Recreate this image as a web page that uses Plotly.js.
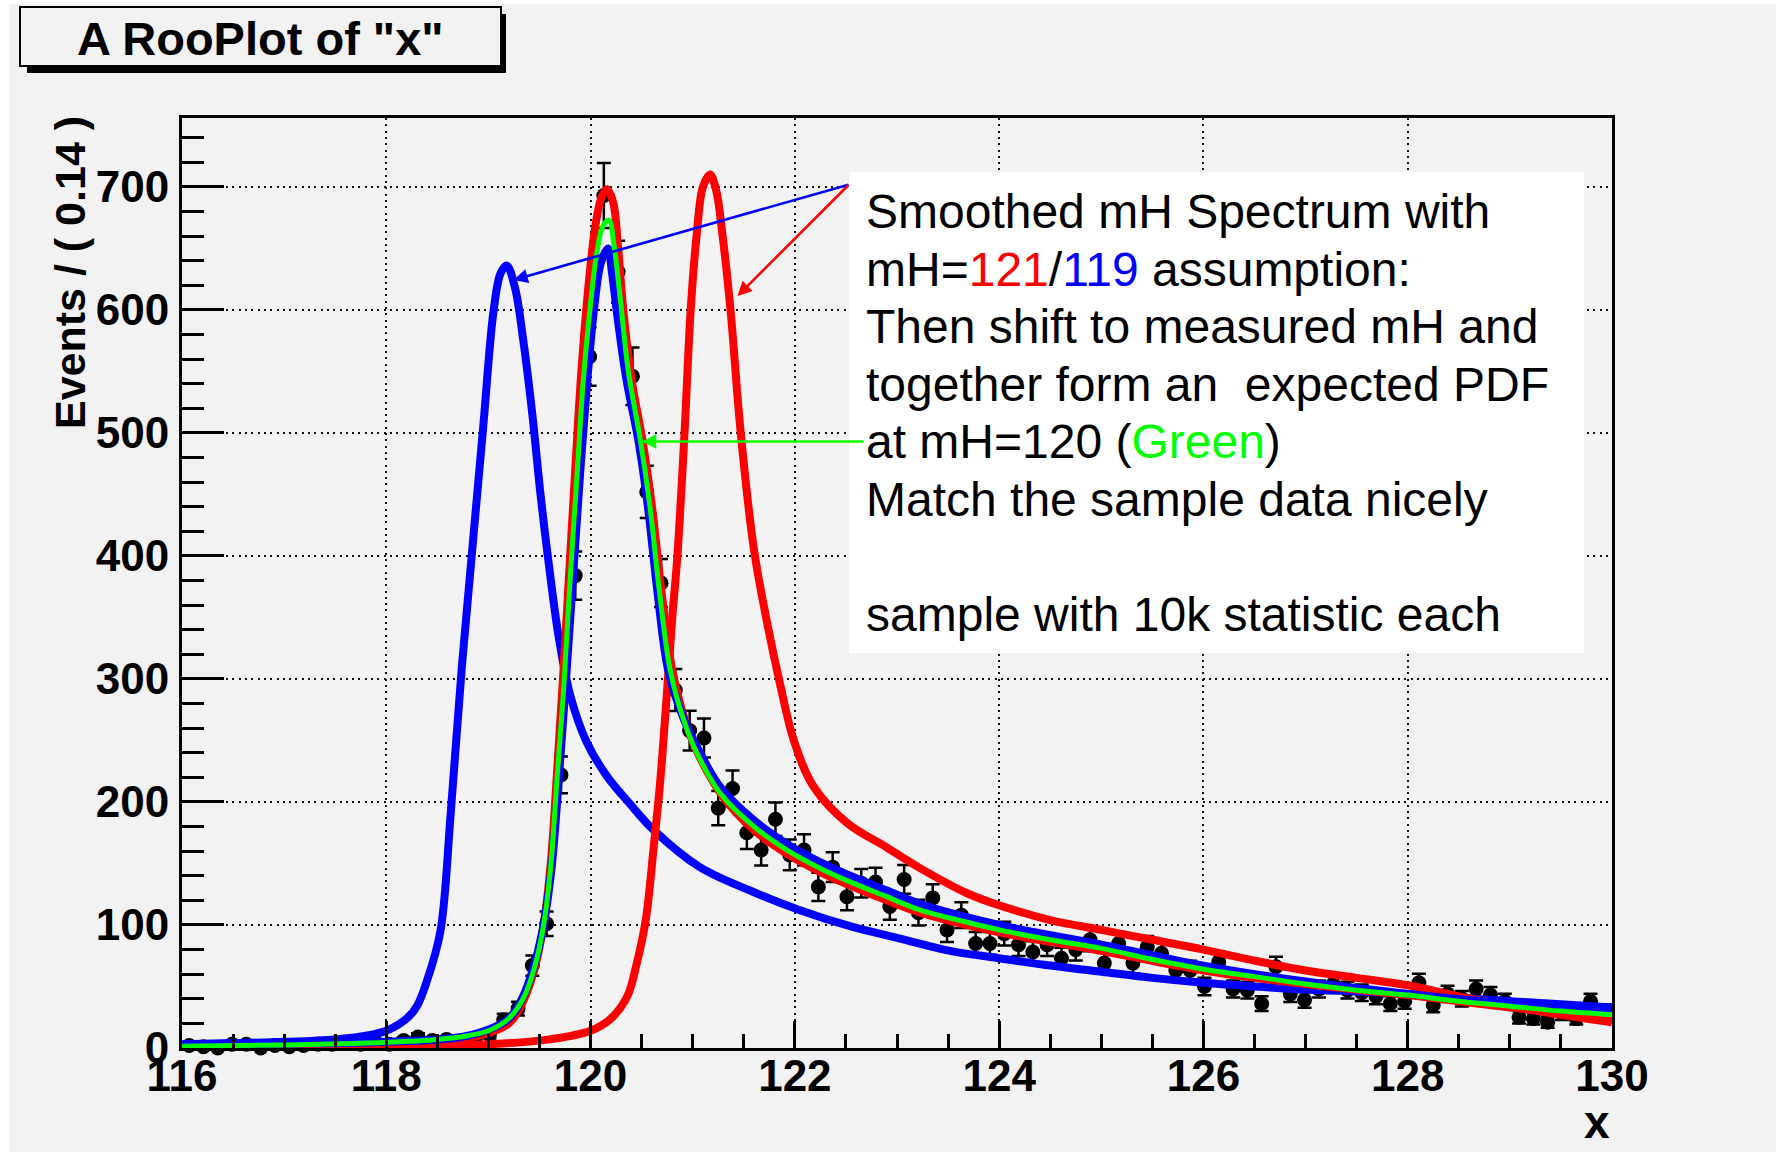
<!DOCTYPE html>
<html><head><meta charset="utf-8">
<script src="https://cdn.plot.ly/plotly-3.0.1.min.js"></script>
<style>html,body{margin:0;padding:0;background:#fff;} #chart{width:1782px;height:1156px;}</style>
</head><body><div id="chart"></div>
<script>
// ---------------- DATA ----------------
// histogram: 100 bins of width 0.14 from 116 to 130
const binLow = 116, binWidth = 0.14;
const counts = [2,1,0,3,3,0,2,1,2,3, 3,4,3,5,3,6,9,6,7,4,
  5,11,23,32,67,101,222,384,562,693, 631,546,452,378,291,258,252,195,211,175,
  161,186,157,161,131,147,123,134,135,115, 137,110,122,96,108,85,85,93,84,78,
  84,73,80,88,69,85,69,82,77,63, 63,50,70,48,47,36,66,44,39,48,
  52,47,45,42,36,38,53,35,44,40, 48,43,38,25,24,21,28,24,38,30];
const binCenters = counts.map((_, i) => +(binLow + binWidth * (i + 0.5)).toFixed(2));

// smoothed spectrum, mH = 119 assumption (blue, original position)
const blue119X = [116,116.5,117,117.5,117.8,118,118.2,118.3,118.4,118.53,118.63,118.74,118.85,118.95,119.05,119.12,119.18,119.26,119.34,119.43,119.51,119.59,119.69,119.8,119.96,120.16,120.39,120.62,121.07,121.56,122.05,122.54,123.03,123.52,124,124.5,125,125.5,126,126.5,127,127.5,128,128.5,129,129.5,130];
const blue119Y = [3,4,5,7,10,14,24,34,55,95,190,310,413,506,599,630,636,618,576,515,450,394,333,287,249,221,198,177,147,128,112,99,89,79,73,67,62,57,53,50,47.5,46,44,41,38,35.5,33];

// smoothed spectrum, mH = 121 assumption (red, original position)
const red121X = [116,117,118,119,119.6,120,120.2,120.36,120.45,120.54,120.62,120.68,120.74,120.8,120.85,120.92,120.98,121.04,121.1,121.17,121.23,121.29,121.37,121.47,121.6,121.73,121.86,121.99,122.18,122.51,122.9,123.23,123.68,124,124.5,125,125.5,126,126.5,127,127.5,128,128.5,129,129.5,130];
const red121Y = [0.5,1,1.5,3,7,14,24,42,68,104,165,215,280,350,400,500,600,662,700,710,697,662,600,500,405,345,294,250,213,183,163,146,126,116,104,96,88,80,71,63,57,51,42,34,27,21];

// mH = 121 spectrum shifted to 120 (red)
const red121sX = [116,117,118,118.8,119.2,119.34,119.45,119.54,119.61,119.67,119.73,119.79,119.85,119.91,119.98,120.05,120.11,120.16,120.22,120.27,120.32,120.4,120.51,120.6,120.7,120.8,120.93,121.06,121.29,121.6,121.92,122.25,122.57,122.9,123.23,124,125,126,127,128,129,130];
const red121sY = [0.5,1.5,3,8,20,38,64,100,150,222,300,385,470,550,620,670,692,698,688,650,600,544,493,441,367,307,265,238,205,177,158,143,131,120,110,94,79,63,52,43,33,25];

// mH = 119 spectrum shifted to 120 (blue)
const blue119sX = [116,117,118,118.8,119.2,119.34,119.45,119.54,119.62,119.69,119.76,119.83,119.9,119.97,120.04,120.1,120.17,120.21,120.27,120.35,120.47,120.56,120.66,120.76,120.9,121.04,121.27,121.6,121.92,122.25,122.57,122.9,123.23,124,125,126,127,128,129,130];
const blue119sY = [2.5,3.5,5,10,24,42,68,100,148,220,300,385,470,545,605,638,650,630,590,544,493,441,367,307,270,245,212,185,166,151,139,128,117,100,84,67,54,44,36,30];

// expected PDF at mH = 120 (green)
const green120X = [116,117,117.8,118.5,118.8,119,119.2,119.34,119.45,119.54,119.61,119.67,119.74,119.8,119.87,119.93,120,120.06,120.12,120.18,120.23,120.29,120.37,120.49,120.58,120.68,120.78,120.91,121.04,121.27,121.6,121.92,122.25,122.57,122.9,123.23,123.6,124,124.5,125,125.5,126,126.5,127,127.5,128,128.5,129,129.5,130];
const green120Y = [1.5,2.5,4,7,10,14,24,40,65,100,148,217,297,381,469,544,605,646,668,673,652,610,550,493,441,367,307,267,240,207,180,161,146,134,123,112,104,96,88,81,72,64,58,52,47,43,38,34,30,27];

const xTickVals = [116,118,120,122,124,126,128,130];
const yTickVals = [0,100,200,300,400,500,600,700];

const noteLines = [
  'Smoothed mH Spectrum with',
  'mH=<span style="color:#ff0000">121</span>/<span style="color:#0000ff">119</span> assumption:',
  'Then shift to measured mH and',
  'together form an&nbsp; expected PDF',
  'at mH=120 (<span style="color:#00ff00">Green</span>)',
  'Match the sample data nicely',
  '',
  'sample with 10k statistic each'
];

// ---------------- LAYOUT HELPERS ----------------
const W = 1782, H = 1156, ML = 182, MR = 170, MT = 118, MB = 108;
const PW = W - ML - MR, PH = H - MT - MB;
const XR = [116, 130], YR = [0, 756];
const px = v => (v - ML) / PW;
const py = v => (H - MB - v) / PH;
const dx = v => XR[0] + (v - ML) / PW * (XR[1] - XR[0]);
const dy = v => YR[0] + (H - MB - v) / PH * (YR[1] - YR[0]);
const FONT = 'Liberation Sans, Arial, Helvetica, sans-serif';
const BG = '#f2f2f2';

function curve(x, y, color, width) {
  return {x: x, y: y, type: 'scatter', mode: 'lines', hoverinfo: 'skip',
    line: {color: color, width: width, shape: 'spline', smoothing: 1.0}};
}

const traces = [
  {x: binCenters, y: counts, type: 'scatter', mode: 'markers', cliponaxis: false,
   marker: {color: '#000', size: 15, symbol: 'circle'},
   error_y: {type: 'sqrt', color: '#000', thickness: 2.5, width: 7}},
  curve(blue119X, blue119Y, '#0000ff', 8),
  curve(red121X, red121Y, '#ff0000', 8),
  curve(red121sX, red121sY, '#ff0000', 8),
  curve(blue119sX, blue119sY, '#0000ff', 8),
  curve(green120X, green120Y, '#00ff00', 5)
];

const axisCommon = {
  showline: true, linecolor: '#000', linewidth: 3, mirror: true,
  ticks: 'inside', tickcolor: '#000', tickwidth: 3,
  showgrid: true, gridcolor: '#111', gridwidth: 2, griddash: '2px,4.3px',
  zeroline: false, fixedrange: true,
  tickfont: {family: FONT, size: 44, color: '#000', weight: 'bold'}
};

const layout = {
  width: W, height: H,
  margin: {l: ML, r: MR, t: MT, b: MB, pad: 0},
  paper_bgcolor: '#ffffff', plot_bgcolor: BG,
  showlegend: false,
  xaxis: Object.assign({}, axisCommon, {
    range: XR, tickvals: xTickVals, ticktext: xTickVals.map(String),
    ticklen: 27, ticklabelstandoff: -13,
    minor: {dtick: 0.5, tick0: 116, ticks: 'inside', ticklen: 14, tickwidth: 3, tickcolor: '#000', showgrid: false}
  }),
  yaxis: Object.assign({}, axisCommon, {
    range: YR, tickvals: yTickVals, ticktext: yTickVals.map(String),
    ticklen: 42, ticklabelstandoff: 1,
    minor: {dtick: 20, tick0: 0, ticks: 'inside', ticklen: 22, tickwidth: 3, tickcolor: '#000', showgrid: false}
  }),
  shapes: [
    {type: 'rect', xref: 'paper', yref: 'paper', layer: 'below',
     x0: px(9), x1: px(1776), y0: py(1152), y1: py(4), fillcolor: BG, line: {width: 0}},
    {type: 'rect', xref: 'paper', yref: 'paper',
     x0: px(27), x1: px(506), y0: py(73), y1: py(14), fillcolor: '#000', line: {width: 0}},
    {type: 'rect', xref: 'paper', yref: 'paper',
     x0: px(20), x1: px(501), y0: py(66), y1: py(7), fillcolor: BG, line: {color: '#000', width: 2}},
    {type: 'rect', xref: 'paper', yref: 'paper', layer: 'above',
     x0: px(849), x1: px(1584), y0: py(653), y1: py(172), fillcolor: '#ffffff', line: {width: 0}}
  ],
  annotations: []
};

// title
layout.annotations.push({xref: 'paper', yref: 'paper', x: px(260.5), y: py(38), xanchor: 'center', yanchor: 'middle',
  text: 'A RooPlot of "x"', showarrow: false, borderpad: 0,
  font: {family: FONT, size: 47, color: '#000', weight: 'bold'}});
// axis titles
layout.annotations.push({xref: 'paper', yref: 'paper', x: px(70), y: py(272), xanchor: 'center', yanchor: 'middle',
  text: 'Events / ( 0.14 )', textangle: -90, showarrow: false, borderpad: 0,
  font: {family: FONT, size: 43, color: '#000', weight: 'bold'}});
layout.annotations.push({xref: 'paper', yref: 'paper', x: px(1597), y: py(1122), xanchor: 'center', yanchor: 'middle',
  text: 'x', showarrow: false, borderpad: 0,
  font: {family: FONT, size: 46, color: '#000', weight: 'bold'}});
// note text lines
const lineTop = 211.5, lineStep = 57.5;
noteLines.forEach((t, i) => {
  if (!t) return;
  layout.annotations.push({xref: 'paper', yref: 'paper', x: px(866), y: py(lineTop + i * lineStep),
    xanchor: 'left', yanchor: 'middle', text: t, showarrow: false, borderpad: 0, borderwidth: 0,
    font: {family: FONT, size: 48, color: '#000'}});
});
// arrows
function arrow(tailPx, headPx, color) {
  return {xref: 'x', yref: 'y', axref: 'x', ayref: 'y',
    x: dx(headPx[0]), y: dy(headPx[1]), ax: dx(tailPx[0]), ay: dy(tailPx[1]),
    text: '', showarrow: true, arrowhead: 2, arrowsize: 1.1, arrowwidth: 2.6, arrowcolor: color, borderpad: 0};
}
layout.annotations.push(arrow([849, 184.5], [513.5, 280], '#0000ff'));
layout.annotations.push(arrow([849, 184.5], [737.5, 296], '#ff0000'));
layout.annotations.push(arrow([864, 441.5], [642, 441.5], '#00ff00'));

Plotly.newPlot('chart', traces, layout, {displayModeBar: false, staticPlot: true});
</script>
</body></html>
